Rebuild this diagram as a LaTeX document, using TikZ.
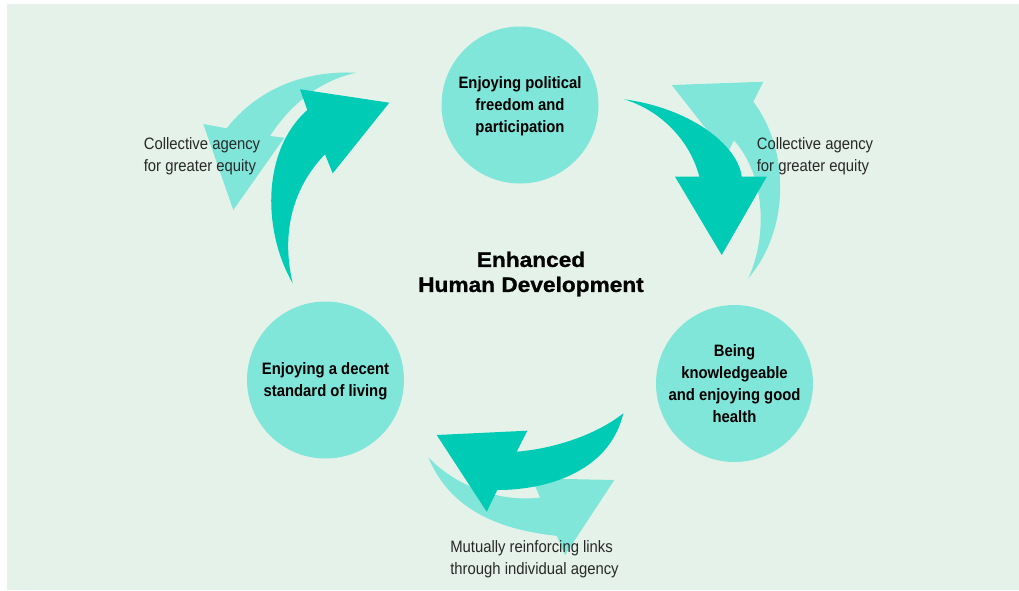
\documentclass[tikz,border=0pt]{standalone}
\usepackage{fontspec}
\setmainfont{Liberation Sans}
\newfontfamily\narrowfont[FakeStretch=0.9]{Liberation Sans}
\newfontfamily\heavyfont[FakeStretch=1.08,FakeBold=1]{Liberation Sans}
\usepackage{xcolor}
\definecolor{hdbg}{RGB}{229,242,233}
\definecolor{hdlight}{RGB}{128,230,217}
\definecolor{hddark}{RGB}{0,204,181}
\definecolor{hdtext}{RGB}{40,40,40}

\begin{document}
\begin{tikzpicture}[x=1pt,y=-1pt,
    bubble/.style={circle,fill=hdlight,minimum size=157pt,inner sep=0pt,align=center,
      font=\narrowfont\bfseries\fontsize{16.5}{22}\selectfont},
    note/.style={align=left,text=hdtext,font=\narrowfont\fontsize{16.5}{22}\selectfont}]
        \useasboundingbox (0,0) rectangle (1019,590);
        \fill[white] (0,0) rectangle (1019,590);
        \fill[hdbg] (7,4) rectangle (1019,590);

        % Light arrows (counter-clockwise)
        \fill[hdlight] (356.7,72.7) .. controls (300,70) and (255,92) .. (226.7,128.3)
          -- (203.3,124) -- (233.3,210) -- (284.3,137.7) -- (270,136)
          .. controls (290,105) and (320,80) .. (356.7,72.7) -- cycle;
        \fill[hdlight] (748.3,278.3) .. controls (790,230) and (790,150) .. (753.3,101.7)
          -- (763.3,81.7) -- (671.7,85) -- (726.6,155) -- (733.9,140.3)
          .. controls (765,175) and (768,235) .. (748.3,278.3) -- cycle;
        \fill[hdlight] (428.3,457.3) .. controls (460,490) and (505,502) .. (540,497.5)
          -- (531.7,478.3) -- (614.3,480) -- (565,555) -- (556.7,535.8)
          .. controls (500,530) and (450,510) .. (428.3,457.3) -- cycle;

        % Dark arrows (clockwise)
        \fill[hddark] (292.7,283.3) .. controls (262,230) and (262,150) .. (307.3,110)
          -- (300,89.3) -- (389.3,102.7) -- (332.7,173.3) -- (325,154.3)
          .. controls (295,185) and (280,230) .. (292.7,283.3) -- cycle;
        \fill[hddark] (624,99.3) .. controls (690,108) and (738,145) .. (741.7,176.7)
          -- (766.7,176.7) -- (721.7,255) -- (675,176.7) -- (699.3,176.7)
          .. controls (690,140) and (660,110) .. (624,99.3) -- cycle;
        \fill[hddark] (623.3,413.3) .. controls (600,432) and (560,448) .. (516.7,451.7)
          -- (527.3,430.7) -- (436.7,435) -- (486.7,511.7) -- (497.3,490)
          .. controls (550,490) and (610,470) .. (623.3,413.3) -- cycle;

        % Three circles
        \node[bubble,text depth=-2pt] (polit) at (520,105) {Enjoying political\\freedom and\\participation};
        \node[bubble,text depth=-3pt] (living) at (325.5,380) {Enjoying a decent\\standard of living};
        \node[bubble,text depth=-2.5pt] (health) at (734.5,383.5) {Being\\knowledgeable\\and enjoying good\\health};

        % Centre and link labels
        \node[align=center,font=\heavyfont\bfseries\fontsize{21}{25}\selectfont] (human)
          at (531,274) {Enhanced\\Human Development};
        \node[note] (equityl) at (202,156) {Collective agency\\for greater equity};
        \node[note] (equityr) at (815,156) {Collective agency\\for greater equity};
        \node[note] (mutual) at (534.5,559) {Mutually reinforcing links\\through individual agency};
      \end{tikzpicture}
\end{document}
